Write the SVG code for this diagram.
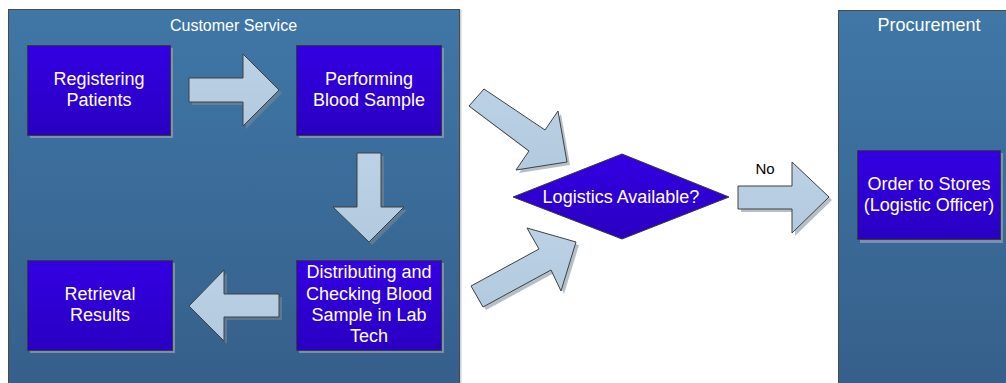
<svg xmlns="http://www.w3.org/2000/svg" xmlns:xlink="http://www.w3.org/1999/xlink" width="1006" height="383" viewBox="0 0 1006 383">
<defs>
<linearGradient id="gPool" x1="0" y1="0" x2="0" y2="1"><stop offset="0" stop-color="#3F77A7"/><stop offset="1" stop-color="#365F8A"/></linearGradient>
<linearGradient id="gNode" x1="0" y1="0" x2="0" y2="1"><stop offset="0" stop-color="#3300E2"/><stop offset="1" stop-color="#2A00C2"/></linearGradient>
<linearGradient id="gArrow" x1="0" y1="0" x2="0" y2="1"><stop offset="0" stop-color="#BCD1E5"/><stop offset="1" stop-color="#B2CADF"/></linearGradient>
</defs>
<style>
.pool{fill:url(#gPool);stroke:#4a4a4a;stroke-width:1}
.poolsh{fill:none;stroke:#d0d0d0;stroke-width:2}
.node{fill:url(#gNode);stroke:#3a3a3a;stroke-width:1}
.nsh{fill:#8a9cb0;opacity:0.8}
.arrow{fill:url(#gArrow);stroke:#404040;stroke-width:1;stroke-linejoin:miter}
.ash{fill:#7a8a9a;opacity:0.55}
.t{font-family:"Liberation Sans",Arial,sans-serif;fill:#fff;text-anchor:middle}
.nt{font-size:18px}
.pt{font-size:16px}
.lbl{font-family:"Liberation Sans",Arial,sans-serif;font-size:15px;fill:#000;text-anchor:middle}
</style>
<rect width="1006" height="383" fill="#fff"/>
<g id="pool-customer-service">
<rect class="poolsh" x="9.5" y="10.5" width="451" height="380"/>
<rect class="pool" x="8.5" y="9.5" width="451" height="380"/>
<text class="t pt" x="233.5" y="30.5">Customer Service</text>
</g>
<g id="pool-procurement">
<rect class="poolsh" x="839.5" y="11.5" width="170" height="380"/>
<rect class="pool" x="838.5" y="10.5" width="170" height="380"/>
<text class="t nt" x="929" y="31">Procurement</text>
</g>
<g id="connectors">
<g id="a1">
<polygon class="ash" points="192,81 246,81 246,57 282,93 246,129 246,105 192,105"/>
<polygon class="arrow" points="189,78 243,78 243,54 279,90 243,126 243,102 189,102"/>
</g>
<g id="a2">
<polygon class="ash" points="360,156 384,156 384,210 407,210 372,245 336,210 360,210"/>
<polygon class="arrow" points="357,153 381,153 381,207 404,207 369,242 333,207 357,207"/>
</g>
<g id="a3">
<polygon class="ash" points="282,297 227,297 227,273 192,309 227,344 227,320 282,320"/>
<polygon class="arrow" points="279,294 224,294 224,270 189,306 224,341 224,317 279,317"/>
</g>
<g id="a4">
<polygon class="ash" points="487,92 548,133 561,114 570,165 519,173 532,154 472,109"/>
<polygon class="arrow" points="484,89 545,130 558,111 567,162 516,170 529,151 469,106"/>
</g>
<g id="a5">
<polygon class="ash" points="474,289 542,252 530,231 579,245 564,294 554,273 486,310"/>
<polygon class="arrow" points="471,286 539,249 527,228 576,242 561,291 551,270 483,307"/>
</g>
<g id="a6">
<polygon class="ash" points="741,189 795,189 795,165 832,200 795,236 795,212 741,212"/>
<polygon class="arrow" points="738,186 792,186 792,162 829,197 792,233 792,209 738,209"/>
<text class="lbl" x="765" y="174">No</text>
</g>
</g>
<g id="n-registering">
<rect class="nsh" x="30" y="48" width="143" height="90"/>
<rect class="node" x="27.5" y="45.5" width="143" height="90"/>
<text class="t nt" x="99" y="85">Registering</text>
<text class="t nt" x="99" y="106">Patients</text>
</g>
<g id="n-performing">
<rect class="nsh" x="299" y="48" width="145" height="90"/>
<rect class="node" x="296.5" y="45.5" width="145" height="90"/>
<text class="t nt" x="369" y="85">Performing</text>
<text class="t nt" x="369" y="106">Blood Sample</text>
</g>
<g id="n-distributing">
<rect class="nsh" x="299" y="263" width="145" height="90"/>
<rect class="node" x="296.5" y="260.5" width="145" height="90"/>
<text class="t nt" x="369" y="278">Distributing and</text>
<text class="t nt" x="369" y="299.5">Checking Blood</text>
<text class="t nt" x="369" y="320.5">Sample in Lab</text>
<text class="t nt" x="369" y="341.5">Tech</text>
</g>
<g id="n-retrieval">
<rect class="nsh" x="30" y="263" width="145" height="90"/>
<rect class="node" x="27.5" y="260.5" width="145" height="90"/>
<text class="t nt" x="100" y="300">Retrieval</text>
<text class="t nt" x="100" y="321">Results</text>
</g>
<g id="n-logistics">
<polygon class="node" points="513,197 622,154 729,197 622,239"/>
<text class="t nt" x="621" y="203">Logistics Available?</text>
</g>
<g id="n-order">
<rect class="nsh" x="860" y="153" width="143" height="90"/>
<rect class="node" x="857.5" y="150.5" width="143" height="89"/>
<text class="t nt" x="929" y="189.5">Order to Stores</text>
<text class="t nt" x="929" y="210.5">(Logistic Officer)</text>
</g>
</svg>
